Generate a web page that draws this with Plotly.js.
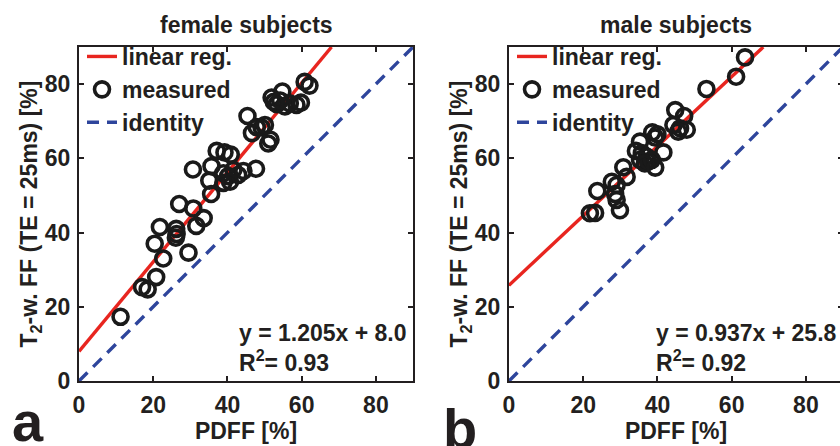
<!DOCTYPE html>
<html><head><meta charset="utf-8">
<script src="https://cdn.plot.ly/plotly-3.0.1.min.js"></script>
<style>html,body{margin:0;padding:0;overflow:hidden;background:#fff}#wrap{width:840px;height:446px;overflow:hidden}</style>
</head><body><div id="wrap"><div id="plot" style="width:880px;height:446px"></div></div>
<script>
const femalePDFF=[11.2,17.0,18.5,20.8,22.7,20.4,21.8,26.2,26.3,26.1,27.0,29.5,30.7,30.8,31.6,33.6,35.6,35.1,35.7,37.1,39.2,40.9,38.9,40.2,41.6,42.9,44.3,47.7,40.7,38.9,45.4,46.6,47.9,49.2,50.1,51.6,51.0,51.9,52.5,53.3,54.8,55.5,56.8,58.6,59.8,60.8,62.1,54.2];
const femaleT2FF=[17.3,25.3,24.7,28.0,33.0,37.0,41.5,41.0,39.6,38.6,47.7,34.6,57.0,46.5,41.8,43.9,50.4,54.0,57.9,62.0,61.6,61.0,56.0,55.2,56.9,55.5,56.6,57.2,53.7,53.4,71.4,66.8,68.4,68.3,69.0,65.0,64.0,76.4,75.2,74.6,78.0,74.0,74.8,74.4,75.0,80.6,79.6,75.6];
const malePDFF=[63.6,61.2,53.2,44.8,47.2,44.3,46.1,47.9,45.6,38.6,40.0,39.4,35.3,34.2,41.6,35.8,37.1,35.3,37.5,38.5,36.6,39.4,30.8,31.7,27.7,29.0,23.8,28.6,29.0,29.9,21.8,23.2];
const maleT2FF=[87.2,82.0,78.7,73.0,71.4,69.0,68.1,67.7,67.2,67.0,66.5,65.6,64.5,62.0,61.6,61.4,60.5,59.6,59.1,59.6,58.6,57.5,57.6,55.0,53.7,52.8,51.2,50.4,48.8,46.0,45.2,45.3];
const panelTitles=['female subjects','male subjects'];
const panelLetters=['a','b'];
const regSlope=[1.205,0.937];
const regIntercept=[8.0,25.8];
const rSquared=['0.93','0.92'];
const legendNames=['linear reg.','measured','identity'];
const axisRange=[0,90];
const tickVals=[0,20,40,60,80];
const xTitle='PDFF [%]';
const yTitle='T<sub>2</sub>-w. FF (TE = 25ms) [%]';

const FONT='Liberation Sans, Arial, Helvetica, sans-serif';
const TXT='#231f20';
const RED='#e8251f';
const BLUE='#2e459c';
const fnt=(s)=>({family:FONT,size:s,color:TXT,weight:'bold'});

const xs=[femalePDFF,malePDFF], ys=[femaleT2FF,maleT2FF];
const traces=[];
for(let p=0;p<2;p++){
  const xa=p===0?'x':'x2', ya=p===0?'y':'y2', lg=p===0?'legend':'legend2';
  const m=regSlope[p], b=regIntercept[p];
  const xEnd=(axisRange[1]-b)/m;
  traces.push({x:[axisRange[0],xEnd],y:[b+m*axisRange[0],axisRange[1]],mode:'lines',name:legendNames[0],
    line:{color:RED,width:3.4},xaxis:xa,yaxis:ya,legend:lg,hoverinfo:'skip'});
  traces.push({x:xs[p],y:ys[p],mode:'markers',name:legendNames[1],
    marker:{symbol:'circle-open',size:15,color:'#1a1a1a',line:{width:3.6,color:'#1a1a1a'}},xaxis:xa,yaxis:ya,legend:lg});
  traces.push({x:axisRange,y:axisRange,mode:'lines',name:legendNames[2],
    line:{color:BLUE,width:3.4,dash:'12px,8px'},xaxis:xa,yaxis:ya,legend:lg,hoverinfo:'skip'});
}

const W=880,H=446,L=79,R=37,T=47,B=65;
const pw=W-L-R, ph=H-T-B;
const d1=[0,334/pw], d2=[430/pw,1];
const axBase={range:axisRange,tickvals:tickVals,ticks:'inside',ticklen:5,tickwidth:2,tickcolor:TXT,
  showline:true,linewidth:2,linecolor:TXT,mirror:'ticks',showgrid:false,zeroline:false,
  tickfont:fnt(23),fixedrange:true};
const xAx=(dom,anchor)=>Object.assign({},axBase,{domain:dom,anchor:anchor,title:{text:xTitle,font:fnt(23),standoff:2},ticklabelstandoff:2});
const yAx=(anchor)=>Object.assign({},axBase,{domain:[0,1],anchor:anchor,title:{text:yTitle,font:fnt(23),standoff:0},ticklabelstandoff:2});

const annotations=[];
const doms=[d1,d2];
for(let p=0;p<2;p++){
  const xr=p===0?'x':'x2', yr=p===0?'y':'y2';
  annotations.push({xref:'paper',yref:'paper',x:(doms[p][0]+doms[p][1])/2,y:(H-B-25)/ph,yanchor:'middle',xanchor:'center',
    text:panelTitles[p],showarrow:false,font:fnt(23)});
  annotations.push({xref:xr,yref:yr,x:88.8,y:9,xanchor:'right',yanchor:'middle',align:'left',
    text:'y = '+regSlope[p].toFixed(3)+'x + '+regIntercept[p].toFixed(1)+'<br>R<sup>2</sup>= '+rSquared[p],
    showarrow:false,font:fnt(23)});
}
annotations.push({xref:'paper',yref:'paper',x:(28-L)/pw,y:(H-B-421)/ph,xanchor:'center',yanchor:'middle',text:panelLetters[0],showarrow:false,font:fnt(56)});
annotations.push({xref:'paper',yref:'paper',x:(460-L)/pw,y:(H-B-428)/ph,xanchor:'center',yanchor:'middle',text:panelLetters[1],showarrow:false,font:fnt(56)});

const legBase={bgcolor:'rgba(0,0,0,0)',borderwidth:0,font:fnt(23),yanchor:'top',xanchor:'left',tracegroupgap:0,itemwidth:30};
const legY=1+12/ph;
const layout={width:W,height:H,margin:{l:L,r:R,t:T,b:B,pad:0},paper_bgcolor:'#fff',plot_bgcolor:'#fff',
  xaxis:xAx(d1,'y'),yaxis:yAx('x'),xaxis2:xAx(d2,'y2'),yaxis2:yAx('x2'),
  legend:Object.assign({},legBase,{x:d1[0]+3/pw,y:legY}),
  legend2:Object.assign({},legBase,{x:d2[0]+3/pw,y:legY}),
  annotations:annotations,showlegend:true,font:{family:FONT,color:TXT}};
Plotly.newPlot('plot',traces,layout,{displayModeBar:false,staticPlot:true});
</script></body></html>
